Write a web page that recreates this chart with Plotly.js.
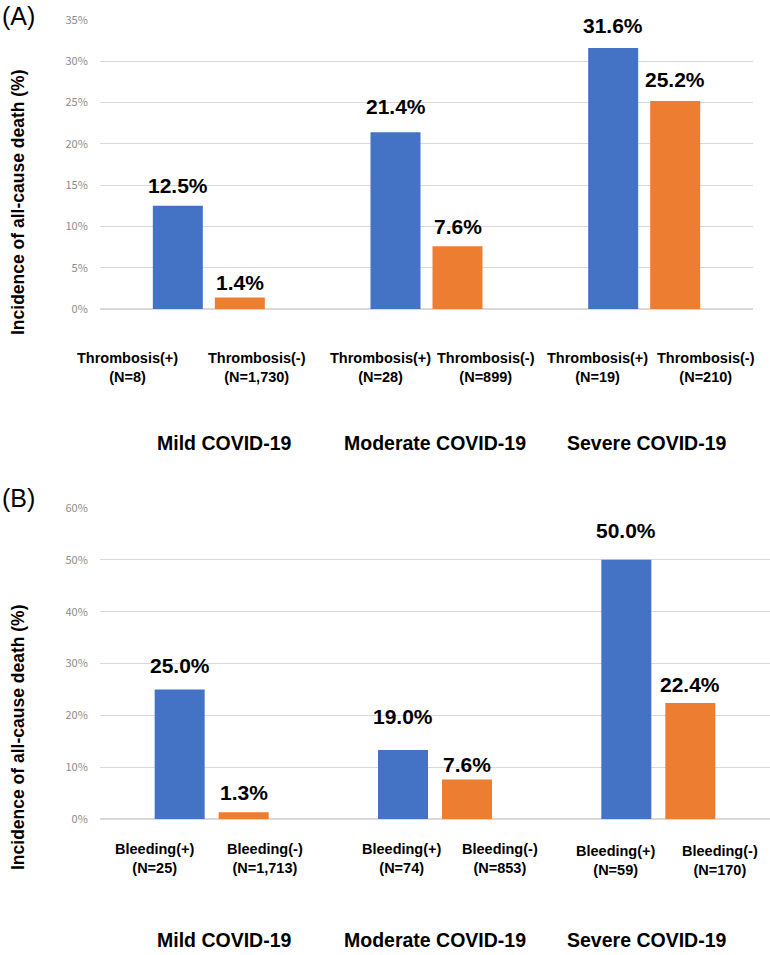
<!DOCTYPE html>
<html>
<head>
<meta charset="utf-8">
<script src="https://cdn.plot.ly/plotly-3.0.1.min.js"></script>
<style>html,body{margin:0;padding:0;background:#fff;}#chart{width:770px;height:955px;}</style>
</head>
<body>
<div id="chart"></div>
<script>
// ---------- DATA ----------
const severityGroups = ['Mild COVID-19', 'Moderate COVID-19', 'Severe COVID-19'];

const thrombosisPosLabel = 'Thrombosis(+)';
const thrombosisNegLabel = 'Thrombosis(-)';
// bar heights as drawn (%)
const thrombosisPos = [12.5, 21.4, 31.6];
const thrombosisNeg = [1.4, 7.6, 25.2];
// printed data labels
const thrombosisPosText = ['12.5%', '21.4%', '31.6%'];
const thrombosisNegText = ['1.4%', '7.6%', '25.2%'];
const thrombosisPosN = ['8', '28', '19'];
const thrombosisNegN = ['1,730', '899', '210'];

const bleedingPosLabel = 'Bleeding(+)';
const bleedingNegLabel = 'Bleeding(-)';
// bar heights as drawn (%) - the moderate Bleeding(+) bar is drawn shorter than its label
const bleedingPos = [25.0, 13.3, 50.0];
const bleedingNeg = [1.3, 7.6, 22.4];
const bleedingPosText = ['25.0%', '19.0%', '50.0%'];
const bleedingNegText = ['1.3%', '7.6%', '22.4%'];
const bleedingPosN = ['25', '74', '59'];
const bleedingNegN = ['1,713', '853', '170'];

const yTitle = 'Incidence of all-cause death (%)';

// ---------- LAYOUT CONSTANTS (pixels) ----------
const W = 770, H = 955;
const px = v => v / W;
const py = v => 1 - v / H;
const BLUE = '#4472C4', ORANGE = '#ED7D31';
const FONT = '"Liberation Sans", Arial, sans-serif';

// panel geometry
const panA = {x0: 100, x1: 753, yTop: 20, yBot: 309, barPx: 50, gapPx: 12,
  subLblX: [127, 257, 380, 486, 597, 706], subLblY: [367.5, 367.5, 367.5, 367.5, 367.5, 367.5],
  grpX: [224, 435, 646], grpY: 443, letterY: 16, titleY: 203,
  lblShiftPos: [20, 26, 23], lblShiftNeg: [15, 20, 21]};
const panB = {x0: 100, x1: 770, yTop: 508, yBot: 819, barPx: 50, gapPx: 14,
  subLblX: [155, 265, 402, 500, 616, 720], subLblY: [858, 858, 858, 858, 860.5, 860.5],
  grpX: [224, 435, 646], grpY: 940, letterY: 498, titleY: 738,
  lblShiftPos: [24, 34, 29], lblShiftNeg: [20, 15, 18]};

function barGeom(p) {
  const catW = (p.x1 - p.x0) / 3;
  const w = p.barPx / catW;
  const g = p.gapPx / catW;
  return {w: w, offPos: -(w + g / 2), offNeg: g / 2};
}
const gA = barGeom(panA), gB = barGeom(panB);

const traces = [
  {type: 'bar', x: severityGroups, y: thrombosisPos, xaxis: 'x', yaxis: 'y',
   marker: {color: BLUE}, width: gA.w, offset: gA.offPos, hoverinfo: 'y'},
  {type: 'bar', x: severityGroups, y: thrombosisNeg, xaxis: 'x', yaxis: 'y',
   marker: {color: ORANGE}, width: gA.w, offset: gA.offNeg, hoverinfo: 'y'},
  {type: 'bar', x: severityGroups, y: bleedingPos, xaxis: 'x2', yaxis: 'y2',
   marker: {color: BLUE}, width: gB.w, offset: gB.offPos, hoverinfo: 'y'},
  {type: 'bar', x: severityGroups, y: bleedingNeg, xaxis: 'x2', yaxis: 'y2',
   marker: {color: ORANGE}, width: gB.w, offset: gB.offNeg, hoverinfo: 'y'}
];

const annotations = [];
function valueLabels(vals, texts, shifts, g, off, xref, yref) {
  vals.forEach((v, i) => {
    annotations.push({x: i + off + g.w / 2, y: v, xref: xref, yref: yref,
      text: texts[i], showarrow: false, yanchor: 'middle', yshift: shifts[i],
      font: {family: FONT, size: 21, color: '#000', weight: 'bold'}});
  });
}
valueLabels(thrombosisPos, thrombosisPosText, panA.lblShiftPos, gA, gA.offPos, 'x', 'y');
valueLabels(thrombosisNeg, thrombosisNegText, panA.lblShiftNeg, gA, gA.offNeg, 'x', 'y');
valueLabels(bleedingPos, bleedingPosText, panB.lblShiftPos, gB, gB.offPos, 'x2', 'y2');
valueLabels(bleedingNeg, bleedingNegText, panB.lblShiftNeg, gB, gB.offNeg, 'x2', 'y2');

function subLabels(p, posLbl, negLbl, posN, negN) {
  for (let i = 0; i < 3; i++) {
    [[posLbl, posN[i]], [negLbl, negN[i]]].forEach((pair, j) => {
      const k = i * 2 + j;
      annotations.push({x: px(p.subLblX[k]), y: py(p.subLblY[k]), xref: 'paper', yref: 'paper',
        text: pair[0] + '<br>(N=' + pair[1] + ')', showarrow: false,
        xanchor: 'center', yanchor: 'middle', align: 'center',
        font: {family: FONT, size: 14.5, color: '#000', weight: 'bold'}});
    });
  }
}
subLabels(panA, thrombosisPosLabel, thrombosisNegLabel, thrombosisPosN, thrombosisNegN);
subLabels(panB, bleedingPosLabel, bleedingNegLabel, bleedingPosN, bleedingNegN);

[panA, panB].forEach(p => {
  severityGroups.forEach((s, i) => {
    annotations.push({x: px(p.grpX[i]), y: py(p.grpY), xref: 'paper', yref: 'paper',
      text: s, showarrow: false, xanchor: 'center', yanchor: 'middle',
      font: {family: FONT, size: 19.5, color: '#000', weight: 'bold'}});
  });
});

[['(A)', panA], ['(B)', panB]].forEach(([t, p]) => {
  annotations.push({x: px(0), y: py(p.letterY), xref: 'paper', yref: 'paper',
    text: t, showarrow: false, xanchor: 'left', yanchor: 'middle',
    font: {family: FONT, size: 25, color: '#000'}});
  annotations.push({x: px(18), y: py(p.titleY), xref: 'paper', yref: 'paper',
    text: yTitle, showarrow: false, textangle: -90, xanchor: 'center', yanchor: 'middle',
    font: {family: FONT, size: 17.5, color: '#000', weight: 'bold'}});
});

function yAxis(p, maxv, dt) {
  return {domain: [py(p.yBot), py(p.yTop)], range: [0, maxv], dtick: dt, tick0: 0,
    ticksuffix: '%', showgrid: true, gridcolor: '#d9d9d9', gridwidth: 1,
    zeroline: true, zerolinecolor: '#d9d9d9', zerolinewidth: 1.5, showline: false,
    ticks: 'outside', ticklen: 9, tickcolor: 'rgba(0,0,0,0)',
    tickfont: {family: '"Noto Sans CJK JP", "DejaVu Sans", sans-serif', size: 11, color: '#8c8c8c'},
    fixedrange: true};
}
function xAxis(p, anchor) {
  return {domain: [px(p.x0), px(p.x1)], anchor: anchor, type: 'category',
    range: [-0.5, 2.5], showticklabels: false, showgrid: false, zeroline: false,
    showline: false, ticks: '', fixedrange: true};
}

const layout = {
  width: W, height: H,
  margin: {l: 0, r: 0, t: 0, b: 0, pad: 0},
  paper_bgcolor: '#fff', plot_bgcolor: '#fff',
  showlegend: false, barmode: 'overlay',
  xaxis: xAxis(panA, 'y'),
  yaxis: yAxis(panA, 35, 5),
  xaxis2: xAxis(panB, 'y2'),
  yaxis2: yAxis(panB, 60, 10),
  annotations: annotations,
  font: {family: FONT}
};

Plotly.newPlot('chart', traces, layout, {staticPlot: true});
</script>
</body>
</html>
